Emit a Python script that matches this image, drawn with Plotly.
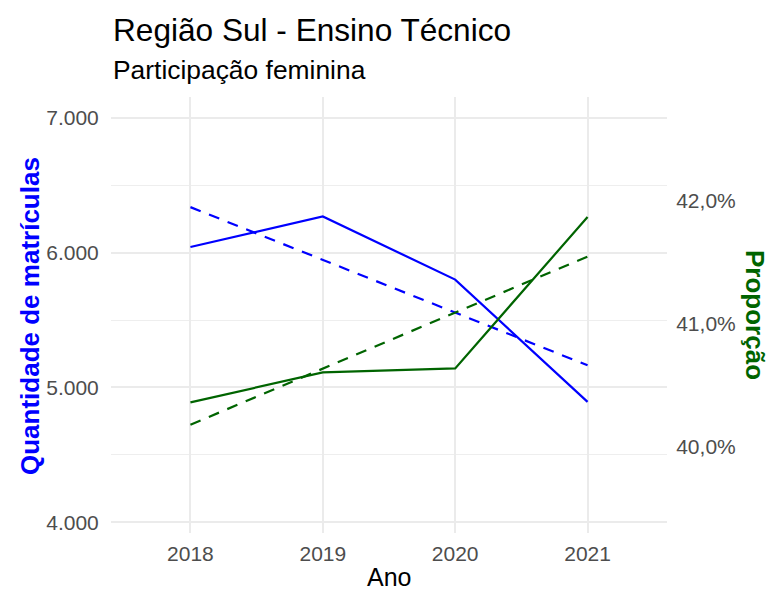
import plotly.graph_objects as go

# ---- data ----
anos = [2018, 2019, 2020, 2021]
ano_labels = ["2018", "2019", "2020", "2021"]
matriculas = [6042, 6269, 5800, 4893]
matriculas_tendencia = [6338, 5946, 5555, 5164]
proporcao = [0.40361, 0.40605, 0.40637, 0.41866]
proporcao_tendencia = [0.40180, 0.40635, 0.41090, 0.41545]

y_left_ticks = [4000, 5000, 6000, 7000]
y_right_ticks = [0.40, 0.41, 0.42]

BLUE = "#0000FF"
GREEN = "#006400"
FONT = "Liberation Sans, Arial, sans-serif"
DASH = "11px,9px"

fig = go.Figure()
fig.add_trace(go.Scatter(x=anos, y=matriculas, mode="lines",
                         line=dict(color=BLUE, width=2.2), yaxis="y", showlegend=False))
fig.add_trace(go.Scatter(x=anos, y=matriculas_tendencia, mode="lines",
                         line=dict(color=BLUE, width=2.2, dash=DASH), yaxis="y", showlegend=False))
fig.add_trace(go.Scatter(x=anos, y=proporcao, mode="lines",
                         line=dict(color=GREEN, width=2.2), yaxis="y2", showlegend=False))
fig.add_trace(go.Scatter(x=anos, y=proporcao_tendencia, mode="lines",
                         line=dict(color=GREEN, width=2.2, dash=DASH), yaxis="y2", showlegend=False))

L, R, T, B = 111, 103, 97, 59
W, H = 770, 592
pw = W - L - R
ph = H - T - B

def px_x(x):
    return (x - L) / pw

def px_y(y):
    return (H - B - y) / ph

fig.update_layout(
    width=W, height=H,
    margin=dict(l=L, r=R, t=T, b=B, pad=0),
    paper_bgcolor="white", plot_bgcolor="white",
    separators=",.",
    font=dict(family=FONT, color="#4D4D4D"),
    xaxis=dict(
        range=[2017.4, 2021.6],
        tickmode="array", tickvals=anos, ticktext=ano_labels,
        showgrid=True, gridcolor="#EBEBEB", gridwidth=1.6,
        zeroline=False, showline=False,
        ticks="outside", ticklen=2, tickcolor="rgba(0,0,0,0)",
        tickfont=dict(size=21, color="#4D4D4D", family=FONT),
    ),
    yaxis=dict(
        range=[3920, 7155],
        tickmode="array", tickvals=y_left_ticks,
        tickformat=",d",
        showgrid=True, gridcolor="#EBEBEB", gridwidth=1.6,
        minor=dict(dtick=500, tick0=4000, showgrid=True, gridcolor="#EEEEEE", gridwidth=1.2),
        zeroline=False, showline=False,
        ticks="outside", ticklen=7, tickcolor="rgba(0,0,0,0)",
        tickfont=dict(size=21, color="#4D4D4D", family=FONT),
    ),
    yaxis2=dict(
        overlaying="y", side="right",
        range=[0.39301, 0.42840],
        tickmode="array", tickvals=y_right_ticks,
        tickformat=".1%",
        showgrid=False, zeroline=False, showline=False,
        ticks="outside", ticklen=4, tickcolor="rgba(0,0,0,0)",
        tickfont=dict(size=21, color="#4D4D4D", family=FONT),
    ),
)

annotations = [
    dict(text="Região Sul - Ensino Técnico", x=px_x(111), y=px_y(30), xanchor="left", yanchor="middle",
         font=dict(size=31.6, color="black", family=FONT)),
    dict(text="Participação feminina", x=px_x(111), y=px_y(70), xanchor="left", yanchor="middle",
         font=dict(size=26.4, color="black", family=FONT)),
    dict(text="Ano", x=px_x(389), y=px_y(592), xanchor="center", yanchor="bottom", borderpad=0,
         font=dict(size=25, color="black", family=FONT)),
    dict(text="<b>Quantidade de matrículas</b>", x=px_x(30), y=px_y(316), xanchor="center", yanchor="middle",
         textangle=-90, font=dict(size=26, color=BLUE, family=FONT)),
    dict(text="<b>Proporção</b>", x=px_x(755), y=px_y(315), xanchor="center", yanchor="middle",
         textangle=90, font=dict(size=26, color=GREEN, family=FONT)),
]
for a in annotations:
    a.update(xref="paper", yref="paper", showarrow=False)
fig.update_layout(annotations=annotations)

fig.write_html("out.html", config={"displayModeBar": False},
               post_script="document.body.style.margin='0';document.body.style.padding='0';")
